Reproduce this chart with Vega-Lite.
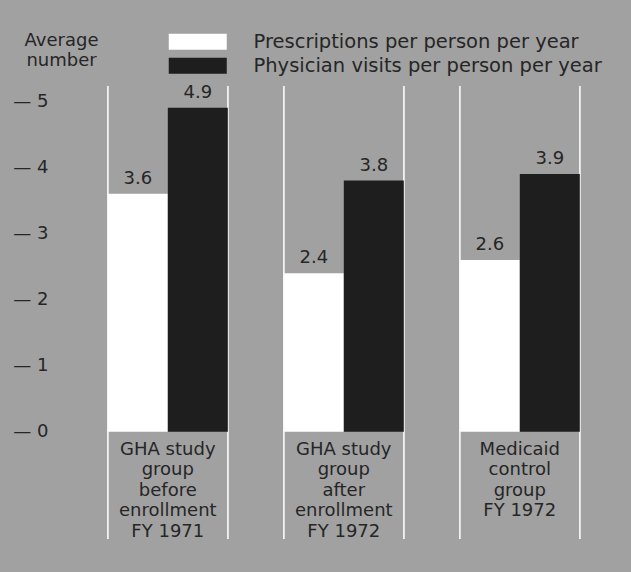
{
  "$schema": "https://vega.github.io/schema/vega-lite/v6.json",
  "autosize": {"type": "none"},
  "padding": {"left": 55, "top": 86, "right": 16, "bottom": 33},
  "width": 560,
  "height": 453,
  "background": "#a1a1a1",
  "config": {
    "view": {"stroke": null, "fill": "#a1a1a1"},
    "font": "DejaVu Sans",
    "text": {"font": "DejaVu Sans", "color": "#262626"}
  },
  "data": {
    "values": [
      {"group": "GHA study\ngroup\nbefore\nenrollment\nFY 1971", "series": "Prescriptions per person per year", "value": 3.6},
      {"group": "GHA study\ngroup\nbefore\nenrollment\nFY 1971", "series": "Physician visits per person per year", "value": 4.9},
      {"group": "GHA study\ngroup\nafter\nenrollment\nFY 1972", "series": "Prescriptions per person per year", "value": 2.4},
      {"group": "GHA study\ngroup\nafter\nenrollment\nFY 1972", "series": "Physician visits per person per year", "value": 3.8},
      {"group": "Medicaid\ncontrol\ngroup\nFY 1972", "series": "Prescriptions per person per year", "value": 2.6},
      {"group": "Medicaid\ncontrol\ngroup\nFY 1972", "series": "Physician visits per person per year", "value": 3.9}
    ]
  },
  "encoding": {
    "x": {
      "field": "group",
      "type": "nominal",
      "sort": null,
      "axis": null,
      "scale": {"paddingInner": 0.318, "paddingOuter": 0.25, "align": 0.6}
    }
  },
  "layer": [
    {
      "mark": {"type": "rule", "color": "#f2f2f2", "strokeWidth": 1.5},
      "encoding": {"x": {"field": "group", "type": "nominal", "sort": null, "bandPosition": 0}}
    },
    {
      "mark": {"type": "rule", "color": "#f2f2f2", "strokeWidth": 1.5},
      "encoding": {"x": {"field": "group", "type": "nominal", "sort": null, "bandPosition": 1}}
    },
    {
      "mark": {"type": "bar"},
      "encoding": {
        "xOffset": {"field": "series", "type": "nominal", "sort": null, "scale": {"paddingInner": 0, "paddingOuter": 0}},
        "y": {
          "field": "value",
          "type": "quantitative",
          "scale": {"domain": [-1.62, 5.23], "nice": false, "zero": false},
          "axis": {
            "values": [0, 1, 2, 3, 4, 5],
            "format": "d",
            "domain": false,
            "ticks": false,
            "tickSize": 0,
            "grid": false,
            "labelPadding": 7,
            "labelFontSize": 18,
            "labelFont": "DejaVu Sans",
            "labelColor": "#262626",
            "labelExpr": "'— ' + datum.label",
            "title": ["Average", "number"],
            "titleAngle": 0,
            "titleAlign": "center",
            "titleBaseline": "top",
            "titleX": 6,
            "titleY": -55,
            "titleFont": "DejaVu Sans",
            "titleFontSize": 18,
            "titleFontWeight": "normal",
            "titleColor": "#262626",
            "titleLineHeight": 20
          }
        },
        "color": {
          "field": "series",
          "type": "nominal",
          "scale": {
            "domain": ["Prescriptions per person per year", "Physician visits per person per year"],
            "range": ["#ffffff", "#1e1e1e"]
          },
          "legend": {
            "title": null,
            "orient": "none",
            "legendX": 133,
            "legendY": -54,
            "symbolType": "M-3.625,-1L3.625,-1L3.625,1L-3.625,1Z",
            "symbolSize": 256,
            "symbolStrokeWidth": 0,
            "symbolOpacity": 1,
            "labelFont": "DejaVu Sans",
            "labelFontSize": 19.5,
            "labelColor": "#262626",
            "labelLimit": 0,
            "labelOffset": 46,
            "rowPadding": 3
          }
        }
      }
    },
    {
      "mark": {"type": "text", "baseline": "middle", "fontSize": 18, "dy": -15},
      "encoding": {
        "xOffset": {"field": "series", "type": "nominal", "sort": null},
        "y": {"field": "value", "type": "quantitative"},
        "text": {"field": "value", "type": "quantitative", "format": ".1f"}
      }
    },
    {
      "transform": [{"filter": "datum.series === 'Prescriptions per person per year'"}],
      "mark": {"type": "text", "baseline": "top", "fontSize": 18, "lineHeight": 20.5, "lineBreak": "\n", "dy": 9},
      "encoding": {
        "y": {"datum": 0, "type": "quantitative"},
        "text": {"field": "group", "type": "nominal"}
      }
    }
  ]
}
